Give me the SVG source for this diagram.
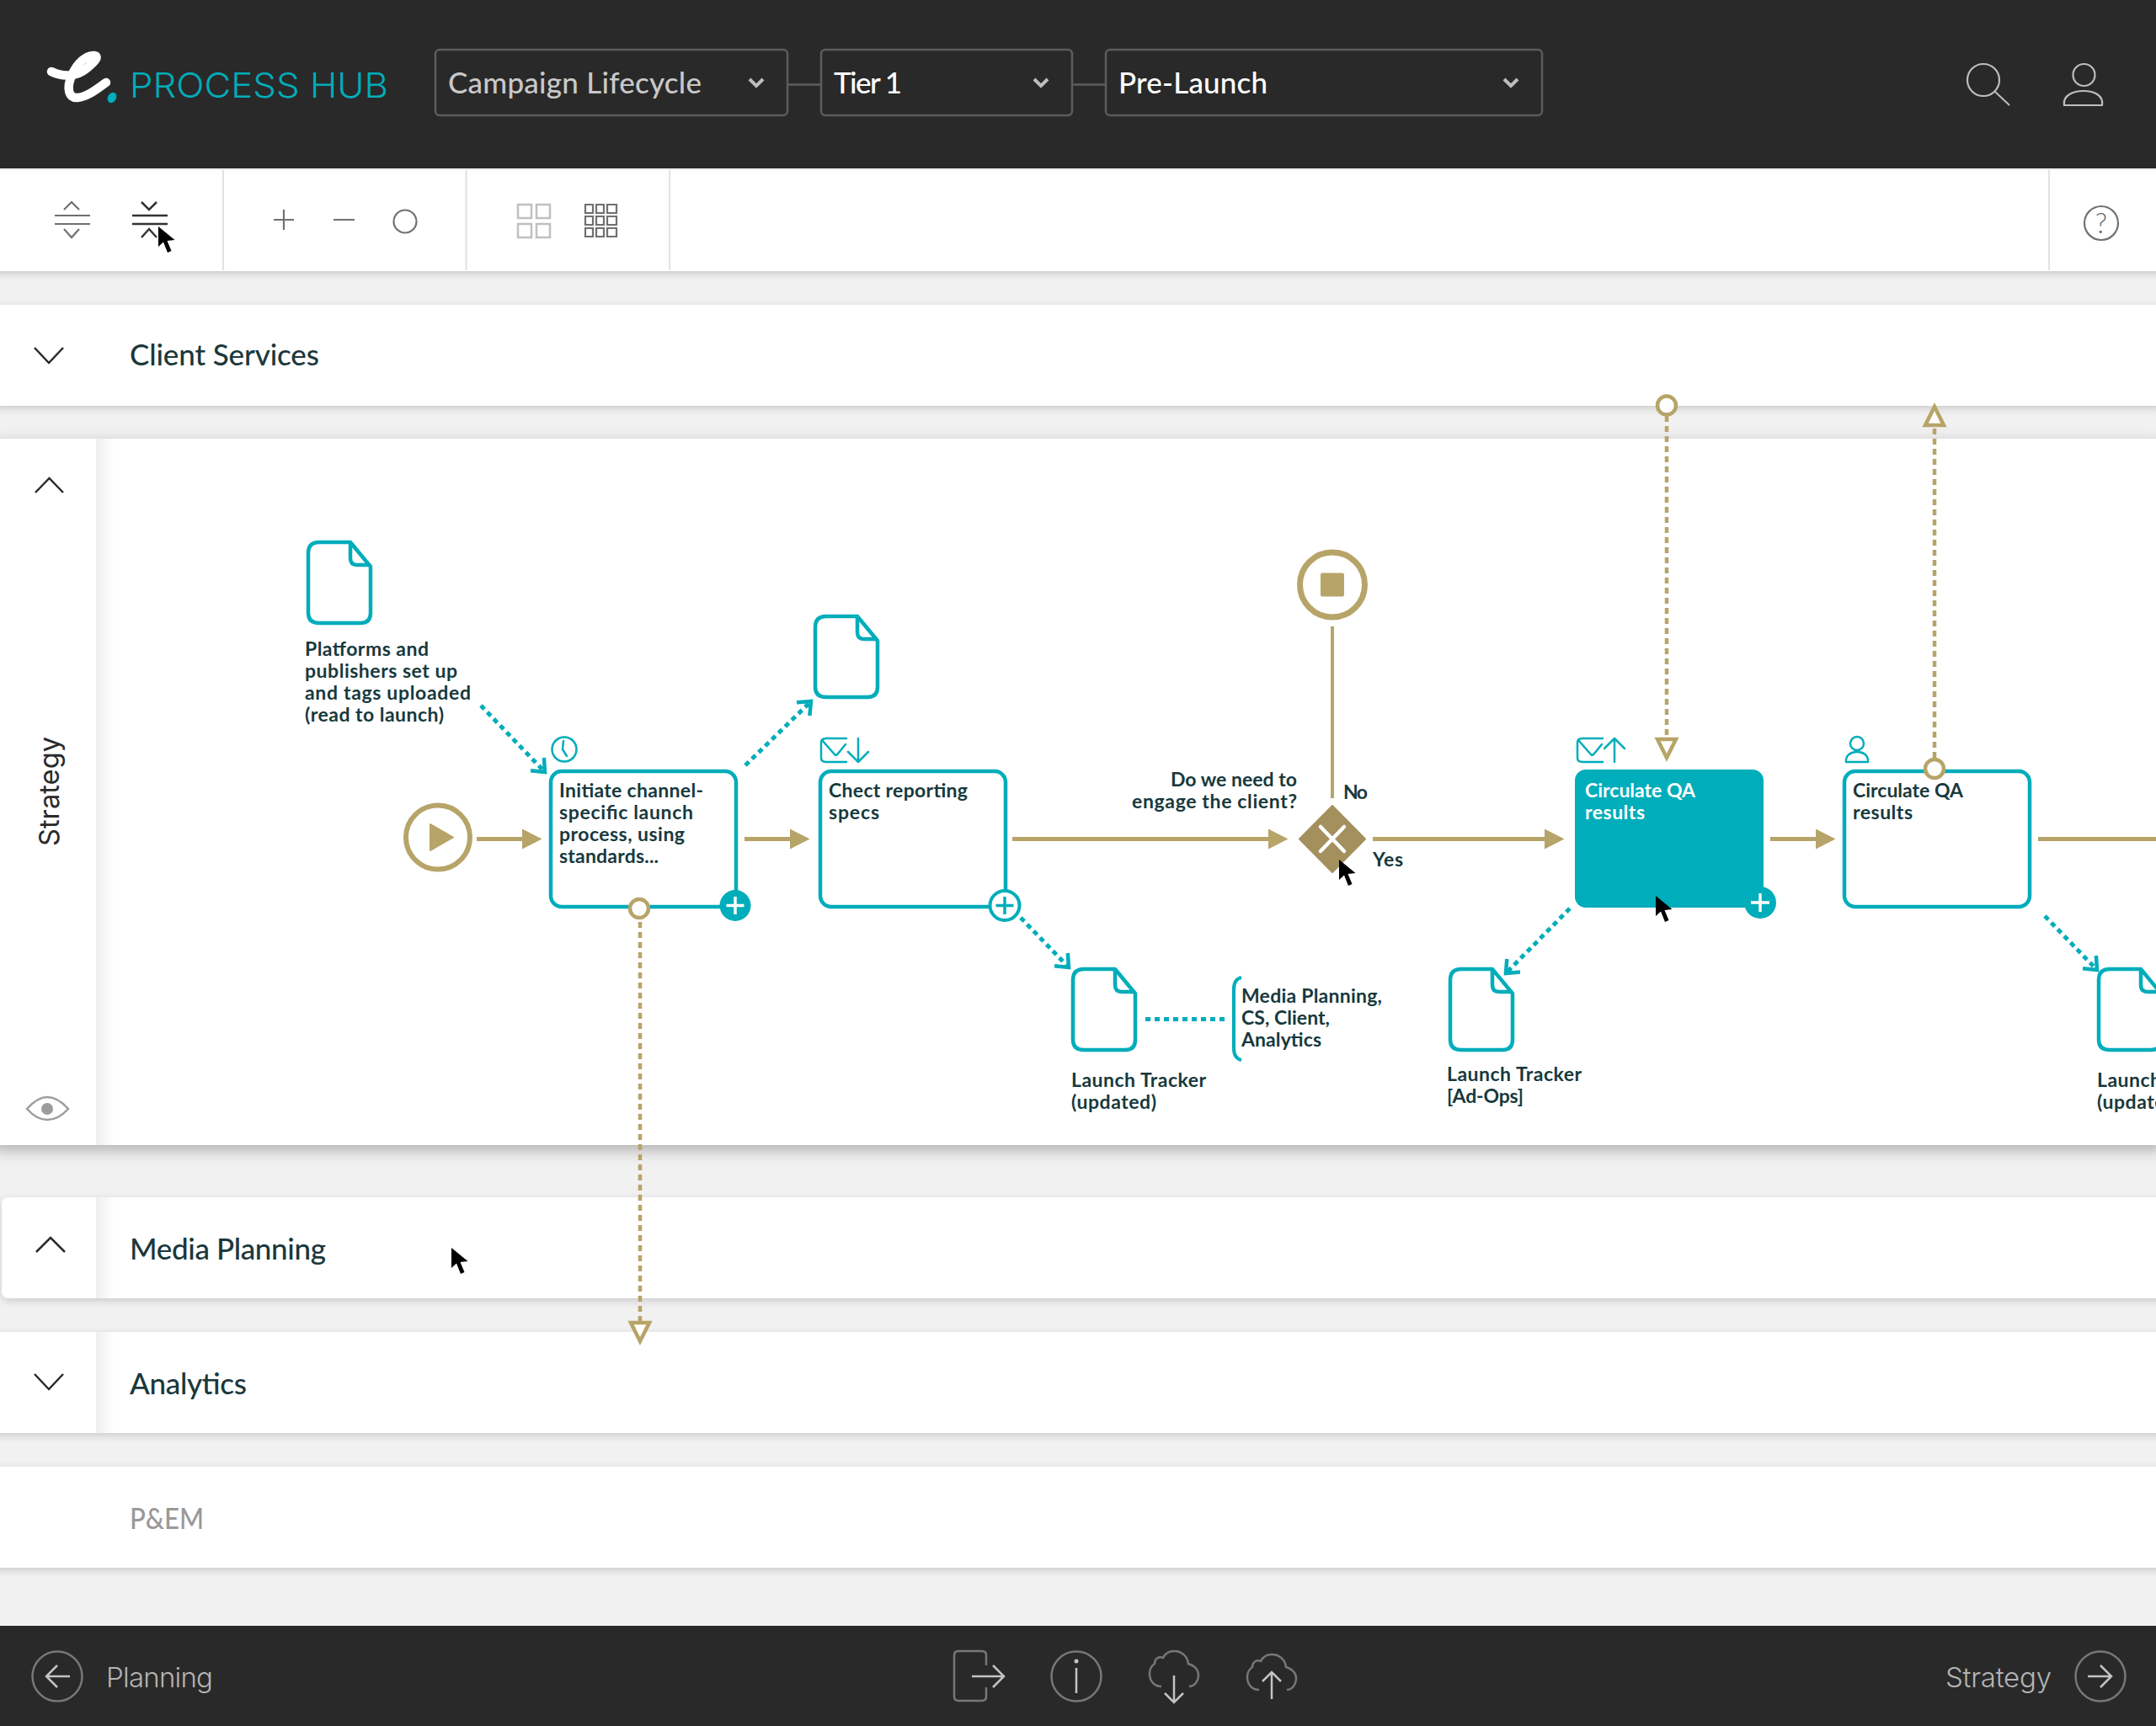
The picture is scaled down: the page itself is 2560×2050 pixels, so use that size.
<svg xmlns="http://www.w3.org/2000/svg" width="2560" height="2050" viewBox="0 0 2560 2050">
<style>
text{font-family:"Lato","Noto Sans",sans-serif}
.lb{font-size:23px;font-weight:700;fill:#17393d}
.hd{font-size:35px;font-weight:500;fill:#1b383b}
.sel{font-size:35px;font-weight:500;fill:#fff}
.thin{font-family:"Inter","Noto Sans",sans-serif;font-weight:300;fill:#b4b4b4;font-size:33px}
.task{fill:#fff;stroke:#00adba;stroke-width:4.500}
.doc{fill:#fff;stroke:#00adba;stroke-width:4.500;stroke-linejoin:round}
.ico{fill:none;stroke:#00adba;stroke-width:2.500;stroke-linecap:round;stroke-linejoin:round}
.flow{fill:none;stroke:#b7a468;stroke-width:5}
.gd{fill:none;stroke:#b7a468;stroke-width:4.500;stroke-dasharray:7 5}
.td{fill:none;stroke:#00adba;stroke-width:5;stroke-dasharray:6 5}
.port{fill:#fff;stroke:#b7a468;stroke-width:4.500}
.tb{fill:none;stroke:#707070;stroke-width:2.200}
.tbd{fill:none;stroke:#333;stroke-width:2.500}
.ft{fill:none;stroke:#777;stroke-width:2.500}
.fa{fill:none;stroke:#c4c4c4;stroke-width:2.500}
.box{fill:none;stroke:#5c5c60;stroke-width:2.500}
.chev{fill:none;stroke:#bdbdbd;stroke-width:4}
.rc{fill:none;stroke:#2a2a2a;stroke-width:2.500}
.row{fill:#fff}
.div{stroke:#e2e2e2;stroke-width:2}
</style>
<defs>
<filter id="sh" x="-5%" y="-30%" width="110%" height="170%"><feDropShadow dx="0" dy="3" stdDeviation="5" flood-color="#000" flood-opacity="0.16"/></filter>
<filter id="sh2" x="-5%" y="-10%" width="110%" height="120%"><feDropShadow dx="0" dy="6" stdDeviation="9" flood-color="#000" flood-opacity="0.28"/></filter>
<linearGradient id="colg" x1="0" x2="1" y1="0" y2="0"><stop offset="0" stop-color="#efefef"/><stop offset="1" stop-color="#fff"/></linearGradient>
<marker id="mf" markerUnits="userSpaceOnUse" markerWidth="30" markerHeight="30" refX="0" refY="15" orient="auto" viewBox="0 0 30 30" overflow="visible"><path d="M0 3L23.500 15L0 27Z" fill="#b7a468"/></marker>
<marker id="mo" markerUnits="userSpaceOnUse" markerWidth="30" markerHeight="30" refX="20" refY="15" orient="auto" viewBox="0 0 30 30" overflow="visible"><path d="M7 4L20 15L7 26" fill="none" stroke="#00adba" stroke-width="4.500"/></marker>
<marker id="mh" markerUnits="userSpaceOnUse" markerWidth="30" markerHeight="30" refX="2" refY="15" orient="auto" viewBox="0 0 30 30" overflow="visible"><path d="M2 4L24 15L2 26Z" fill="#fff" stroke="#b7a468" stroke-width="4.500" stroke-linejoin="miter"/></marker>
<path id="docp" d="M14 1H51L75 30V85Q75 97 63 97H14Q1 97 1 85V14Q1 1 14 1ZM51 1V20Q51 28 59 28H75"/>
<path id="cur" d="M0 0V24L6 18.500L11 31L15.500 29L10.500 17L19.500 16Z" fill="#000"/>
<path id="cloud" d="M14 42C6 42 0 36 0 27C0 21 3 17 6 15C6 9 11 6 16 8C19 2 24 0 29 0C38 0 45 6 46 15C53 17 58 22 58 28C58 36 53 42 47 42"/>
<path id="env" d="M30 0H6Q0 0 0 5V23Q0 28 6 28H30M1 2L16 19Q18 21 20 18L29 7"/>
</defs>
<rect width="2560" height="2050" fill="#f1f1f1"/>

<g id="toolbar">
<rect class="row" x="-10" y="200" width="2580" height="122" filter="url(#sh)"/>
<rect y="200" width="2560" height="2" fill="#eee"/>
<path class="div" d="M265 202V321M553.500 202V321M795 202V321M2433 202V321"/>
<path class="tb" d="M65 256H107M65 266H107M76 249L85 240L94 249M76 272L85 282L94 272"/>
<path class="tbd" d="M157 256H199M157 266H199M168 240L177 249L186 240M168 282L177 272L186 282"/>
<path class="tb" d="M337 249V273M325 261H349M396 261H421"/>
<circle class="tb" cx="481" cy="263" r="13.500"/>
<path fill="none" stroke="#c0c0c0" stroke-width="2.500" d="M615 243h16v16h-16zM637 243h16v16h-16zM615 266h16v16h-16zM637 266h16v16h-16z"/>
<path fill="none" stroke="#707070" stroke-width="2.200" d="M695 243h9v10h-9zM708 243h9v10h-9zM721 243h11v10h-11zM695 257h9v10h-9zM708 257h9v10h-9zM721 257h11v10h-11zM695 271h9v10h-9zM708 271h9v10h-9zM721 271h11v10h-11z"/>
<circle class="tb" cx="2495" cy="265" r="20"/>
<text x="2495" y="277" text-anchor="middle" style="font-size:33px;font-weight:300;fill:#666">?</text>
<use href="#cur" x="188" y="269"/>
</g>

<g id="header">
<rect width="2560" height="200" fill="#292929"/>
<g id="logo">
<path d="M61 85C75 92 91 91 102 82C113 73 118 67 112 66C104 65 92 73 85 90C79 104 81 117 92 116C104 115 116 105 126 98" fill="none" stroke="#fff" stroke-width="10.500" stroke-linecap="round" stroke-linejoin="round"/>
<ellipse cx="133" cy="116" rx="5" ry="6.500" transform="rotate(30 133 116)" fill="#00adba"/>
<text x="154" y="116" textLength="307" lengthAdjust="spacingAndGlyphs" style="font-family:Inter,sans-serif;font-weight:300;font-size:41px;fill:#00adba">PROCESS HUB</text>
</g>
<rect class="box" x="517" y="59" width="418" height="78" rx="5"/>
<rect class="box" x="975" y="59" width="298" height="78" rx="5"/>
<rect class="box" x="1313" y="59" width="518" height="78" rx="5"/>
<path class="box" d="M935 100.500H975M1273 100.500H1313"/>
<text class="sel" x="532" y="111" textLength="301" style="fill:#c8c8c8">Campaign Lifecycle</text>
<text class="sel" x="990" y="111" textLength="81">Tier 1</text>
<text class="sel" x="1328" y="111" textLength="177">Pre-Launch</text>
<path class="chev" d="M890 94L898 102L906 94M1228 94L1236 102L1244 94M1786 94L1794 102L1802 94"/>
<circle cx="2355" cy="95" r="19" fill="none" stroke="#bdbdbd" stroke-width="2.200"/>
<path d="M2369 109L2386 125" stroke="#bdbdbd" stroke-width="2"/>
<circle cx="2474.500" cy="89" r="13" fill="none" stroke="#bdbdbd" stroke-width="2.200"/>
<path d="M2451 125C2449 113 2462 108 2474 108C2486 108 2498 113 2496 125Z" fill="none" stroke="#bdbdbd" stroke-width="2.200"/>
</g>

<g id="row-client-services">
<rect class="row" x="-10" y="362" width="2580" height="120" rx="8" filter="url(#sh)"/>
<path class="rc" d="M41 413L58 431L75 413"/>
<text class="hd" x="154" y="434" textLength="225">Client Services</text>
</g>
<g id="row-strategy">
<rect class="row" x="-10" y="521" width="2580" height="839" rx="8" filter="url(#sh2)"/>
<rect x="114" y="521" width="22" height="839" fill="url(#colg)"/>
<path class="rc" d="M42 585L58.500 568L75 585"/>
<text x="0" y="0" transform="translate(70 1005) rotate(-90)" textLength="130" lengthAdjust="spacingAndGlyphs" style="font-family:Inter,sans-serif;font-weight:400;font-size:33px;fill:#2a2a2a">Strategy</text>
<path d="M32 1317C41 1307 48 1303 56 1303C64 1303 72 1307 81 1317C72 1327 64 1330 56 1330C48 1330 41 1327 32 1317Z" fill="none" stroke="#9c9ca0" stroke-width="2.500"/>
<circle cx="56" cy="1317" r="7" fill="#9c9ca0"/>
</g>
<g id="row-media-planning">
<rect class="row" x="2" y="1422" width="2580" height="120" rx="8" filter="url(#sh)"/>
<rect x="114" y="1422" width="22" height="120" fill="url(#colg)"/>
<path class="rc" d="M43 1487L60 1470L77 1487"/>
<text class="hd" x="154" y="1496" textLength="233">Media Planning</text>
<use href="#cur" x="536" y="1482"/>
</g>
<g id="row-analytics">
<rect class="row" x="-10" y="1582" width="2580" height="120" rx="8" filter="url(#sh)"/>
<rect x="114" y="1582" width="22" height="120" fill="url(#colg)"/>
<path class="rc" d="M41 1632L58 1650L75 1632"/>
<text class="hd" x="154" y="1656" textLength="139">Analytics</text>
</g>
<g id="row-pem">
<rect class="row" x="-10" y="1742" width="2580" height="120" rx="8" filter="url(#sh)"/>
<text class="hd" x="154" y="1816" textLength="88" lengthAdjust="spacingAndGlyphs" style="fill:#999">P&amp;EM</text>
</g>

<g id="connectors">
<path class="flow" d="M566 996.500H620" marker-end="url(#mf)"/>
<path class="flow" d="M884 996.500H938" marker-end="url(#mf)"/>
<path class="flow" d="M1202 996.500H1506" marker-end="url(#mf)"/>
<path class="flow" d="M1630 996.500H1834" marker-end="url(#mf)"/>
<path class="flow" d="M2102 996.500H2156" marker-end="url(#mf)"/>
<path class="flow" d="M2420 996.500H2570"/>
<path d="M1582 744V948" fill="none" stroke="#b7a468" stroke-width="4"/>
<path class="gd" d="M760 1095V1571" marker-end="url(#mh)"/>
<path class="gd" d="M1979 494V878" marker-end="url(#mh)"/>
<path class="gd" d="M2297 900V505" marker-end="url(#mh)"/>
<path class="td" d="M571 838L647 917" marker-end="url(#mo)"/>
<path class="td" d="M885 909L963 833" marker-end="url(#mo)"/>
<path class="td" d="M1212 1090L1269 1149" marker-end="url(#mo)"/>
<path class="td" d="M1864 1079L1788 1156" marker-end="url(#mo)"/>
<path class="td" d="M2428 1088L2490 1152" marker-end="url(#mo)"/>
<path class="td" d="M1360 1210.500H1457" stroke-dasharray="5 4"/>
<circle class="port" cx="1979" cy="481.500" r="11"/>
</g>

<g id="start"><circle cx="520" cy="994.500" r="38" fill="#fff" stroke="#b7a468" stroke-width="6"/><path d="M511 979L538 994.500L511 1010Z" fill="#b7a468" stroke="#b7a468" stroke-width="2" stroke-linejoin="round"/></g>
<g id="doc-platforms"><use class="doc" href="#docp" x="365" y="643"/>
<text class="lb" x="362" y="779" textLength="147">Platforms and</text>
<text class="lb" x="362" y="805" textLength="181">publishers set up</text>
<text class="lb" x="362" y="831" textLength="197">and tags uploaded</text>
<text class="lb" x="362" y="857" textLength="165">(read to launch)</text></g>
<g id="task-initiate"><rect class="task" x="654" y="916" width="220" height="161" rx="13"/>
<circle class="ico" cx="670" cy="890" r="14.500"/><path class="ico" d="M669 880L668 890L673 898"/>
<text class="lb" x="664" y="947" textLength="171">Initiate channel-</text>
<text class="lb" x="664" y="973" textLength="159">specific launch</text>
<text class="lb" x="664" y="999" textLength="149">process, using</text>
<text class="lb" x="664" y="1025" textLength="118">standards...</text>
<circle cx="873" cy="1075.500" r="18.500" fill="#00adba"/><path d="M873 1065V1086M862.500 1075.500H883.500" stroke="#fff" stroke-width="3.500"/>
<circle class="port" cx="759" cy="1079" r="11"/></g>
<g id="doc-specs"><use class="doc" href="#docp" x="967" y="731"/></g>
<g id="task-specs"><rect class="task" x="974" y="916" width="220" height="161" rx="13"/>
<use class="ico" href="#env" x="975" y="877"/><path class="ico" d="M1019 877V905M1007 893L1019 905L1031 893"/>
<text class="lb" x="984" y="947" textLength="165">Chect reporting</text>
<text class="lb" x="984" y="973" textLength="60">specs</text>
<circle cx="1193" cy="1075.500" r="17.500" fill="#fff" stroke="#00adba" stroke-width="4"/><path d="M1193 1065V1086M1182.500 1075.500H1203.500" stroke="#00adba" stroke-width="3.500"/></g>
<g id="doc-tracker"><use class="doc" href="#docp" x="1273" y="1150"/>
<text class="lb" x="1272" y="1291" textLength="160">Launch Tracker</text>
<text class="lb" x="1272" y="1317" textLength="101">(updated)</text></g>
<g id="roles"><path d="M1474 1161Q1465 1163 1465 1175V1245Q1465 1257 1474 1259" fill="none" stroke="#00adba" stroke-width="4"/>
<text class="lb" x="1474" y="1191" textLength="167">Media Planning,</text>
<text class="lb" x="1474" y="1217" textLength="105">CS, Client,</text>
<text class="lb" x="1474" y="1243" textLength="95">Analytics</text></g>
<g id="end"><circle cx="1582" cy="694.500" r="38.500" fill="#fff" stroke="#b7a468" stroke-width="7"/><rect x="1568" y="680.500" width="28" height="28" rx="2" fill="#b7a468"/></g>
<g id="gateway"><path d="M1582 957L1621 996.500L1582 1036L1543 996.500Z" fill="#a3905d" stroke="#a3905d" stroke-width="2" stroke-linejoin="round"/><path d="M1568 982L1596 1011M1596 982L1568 1011" stroke="#fff" stroke-width="4.500" stroke-linecap="round"/>
<text class="lb" x="1540" y="934" text-anchor="end" textLength="150">Do we need to</text>
<text class="lb" x="1540" y="960" text-anchor="end" textLength="196">engage the client?</text>
<text class="lb" x="1595" y="949" textLength="29">No</text>
<text class="lb" x="1630" y="1029" textLength="36">Yes</text>
<use href="#cur" x="1590" y="1021"/></g>
<g id="task-circulate-1"><rect x="1870" y="914" width="224" height="164" rx="13" fill="#00adba"/>
<use class="ico" href="#env" x="1873" y="877"/><path class="ico" d="M1917 905V877M1905 889L1917 877L1929 889"/>
<text class="lb" x="1882" y="947" textLength="131" style="fill:#fff">Circulate QA</text>
<text class="lb" x="1882" y="973" textLength="71" style="fill:#fff">results</text>
<circle cx="2090" cy="1072" r="19" fill="#00adba"/><path d="M2090 1061V1083M2079 1072H2101" stroke="#fff" stroke-width="3.500"/>
<use href="#cur" x="1966" y="1064"/></g>
<g id="task-circulate-2"><rect class="task" x="2190" y="916" width="220" height="161" rx="13"/>
<circle class="ico" cx="2205" cy="883" r="8"/><path class="ico" d="M2192 905C2191 897 2198 893 2205 893C2212 893 2219 897 2218 905Z"/>
<text class="lb" x="2200" y="947" textLength="131">Circulate QA</text>
<text class="lb" x="2200" y="973" textLength="71">results</text>
<circle class="port" cx="2297" cy="913" r="11"/></g>
<g id="doc-adops"><use class="doc" href="#docp" x="1721" y="1150"/>
<text class="lb" x="1718" y="1284" textLength="160">Launch Tracker</text>
<text class="lb" x="1718" y="1310" textLength="91">[Ad-Ops]</text></g>
<g id="doc-tracker-2"><use class="doc" href="#docp" x="2491" y="1150"/>
<text class="lb" x="2490" y="1291" textLength="160">Launch Tracker</text>
<text class="lb" x="2490" y="1317" textLength="101">(updated)</text></g>

<g id="footer">
<rect y="1931" width="2560" height="119" fill="#292929"/>
<circle class="ft" cx="68" cy="1991" r="29.500"/><path class="fa" d="M83 1991H55M68 1978L55 1991L68 2004"/>
<text class="thin" x="126" y="2004" textLength="127">Planning</text>
<path class="ft" d="M1171 1978V1966Q1171 1961 1166 1961H1138Q1133 1961 1133 1966V2015Q1133 2020 1138 2020H1166Q1171 2020 1171 2015V2004"/>
<path class="fa" d="M1154 1991H1191M1179 1978L1192 1991L1179 2004"/>
<circle class="ft" cx="1278" cy="1991" r="29.500"/><path class="fa" d="M1278 1981V2011"/><circle cx="1278" cy="1973" r="2.500" fill="#c4c4c4"/>
<use class="ft" href="#cloud" x="1365" y="1961"/><path class="fa" d="M1394 1990V2022M1383 2011L1394 2022L1405 2011"/>
<use class="ft" href="#cloud" x="1481" y="1965"/><path class="fa" d="M1510 2018V1986M1499 1997L1510 1986L1521 1997"/>
<text class="thin" x="2310" y="2004" textLength="126">Strategy</text>
<circle class="ft" cx="2494" cy="1991" r="29.500"/><path class="fa" d="M2479 1991H2507M2494 1978L2507 1991L2494 2004"/>
</g>
</svg>
